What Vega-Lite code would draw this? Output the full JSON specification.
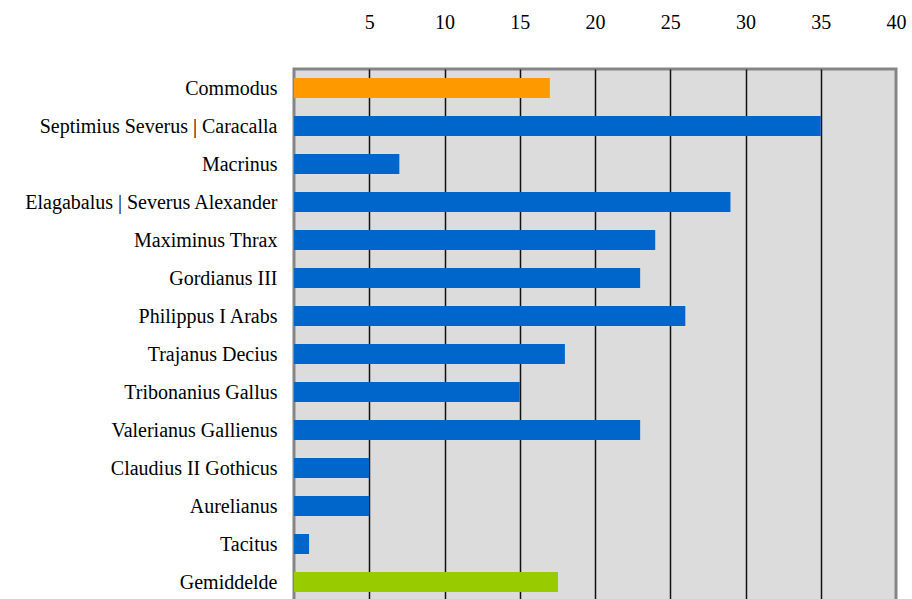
{
  "$schema": "https://vega.github.io/schema/vega-lite/v6.json",
  "autosize": {"type": "none"},
  "padding": {"left": 294, "top": 69, "right": 16, "bottom": 0},
  "width": 602,
  "height": 532,
  "background": "white",
  "view": {"fill": "#DCDCDC", "stroke": "#858585", "strokeWidth": 3},
  "data": {
    "values": [
      {"name": "Commodus", "value": 17, "group": "a"},
      {"name": "Septimius Severus | Caracalla", "value": 35, "group": "b"},
      {"name": "Macrinus", "value": 7, "group": "b"},
      {"name": "Elagabalus | Severus Alexander", "value": 29, "group": "b"},
      {"name": "Maximinus Thrax", "value": 24, "group": "b"},
      {"name": "Gordianus III", "value": 23, "group": "b"},
      {"name": "Philippus I Arabs", "value": 26, "group": "b"},
      {"name": "Trajanus Decius", "value": 18, "group": "b"},
      {"name": "Tribonanius Gallus", "value": 15, "group": "b"},
      {"name": "Valerianus Gallienus", "value": 23, "group": "b"},
      {"name": "Claudius II Gothicus", "value": 5, "group": "b"},
      {"name": "Aurelianus", "value": 5, "group": "b"},
      {"name": "Tacitus", "value": 1, "group": "b"},
      {"name": "Gemiddelde", "value": 17.54, "group": "c"}
    ]
  },
  "mark": {"type": "bar"},
  "encoding": {
    "y": {
      "field": "name", "type": "nominal", "sort": null,
      "scale": {"paddingInner": 0.474, "paddingOuter": 0.237},
      "axis": {"title": null, "domain": false, "ticks": false, "labelPadding": 17, "labelFont": "Liberation Serif", "labelFontSize": 20, "labelColor": "black", "labelLimit": 400, "labelBaseline": "middle", "labelOffset": 1}
    },
    "x": {
      "field": "value", "type": "quantitative",
      "scale": {"domain": [0, 40], "nice": false},
      "axis": {
        "orient": "top", "title": null, "domain": false, "ticks": false,
        "values": [5, 10, 15, 20, 25, 30, 35, 40],
        "labelPadding": 37, "labelFont": "Liberation Serif", "labelFontSize": 20, "labelColor": "black",
        "grid": true, "gridWidth": 1.5,
        "gridColor": {"condition": {"test": "datum.value == 40", "value": "transparent"}, "value": "#111111"},
        "labelFlush": false
      }
    },
    "color": {
      "field": "group", "type": "nominal",
      "scale": {"domain": ["a", "b", "c"], "range": ["#FF9900", "#0066CC", "#99CC00"]},
      "legend": null
    }
  }
}
